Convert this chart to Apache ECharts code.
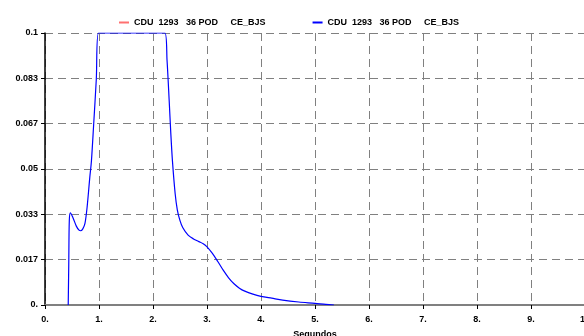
<!DOCTYPE html>
<html>
<head>
<meta charset="utf-8">
<script src="https://cdn.jsdelivr.net/npm/echarts@6/dist/echarts.min.js"></script>
<style>
  html, body { margin: 0; padding: 0; background: #fff; }
  #main { width: 584px; height: 336px; }
</style>
</head>
<body>
<div id="main"></div>
<script>
// legend labels (both series carry the same label in the original)
var seriesLabels = ['CDU  1293   36 POD     CE_BJS', 'CDU  1293   36 POD     CE_BJS'];

// x tick labels (0..10) and y tick labels (0..0.1 in sixths)
var xTickLabels = ['0.', '1.', '2.', '3.', '4.', '5.', '6.', '7.', '8.', '9.', '10'];
var yTickLabels = ['0.', '0.017', '0.033', '0.05', '0.067', '0.083', '0.1'];

// time (s) and value
var blueX = [0.43, 0.44, 0.45, 0.47, 0.52, 0.58, 0.63, 0.66, 0.70, 0.74, 0.78, 0.83, 0.86, 0.90, 0.95, 0.99,
             1.5, 2.0, 2.22, 2.26, 2.30, 2.33, 2.36, 2.41, 2.45, 2.50, 2.55, 2.65, 2.75, 2.85, 2.93, 3.0,
             3.1, 3.2, 3.3, 3.4, 3.5, 3.6, 3.7, 3.85, 4.0, 4.2, 4.4, 4.7, 5.0, 5.2, 5.35];
var blueY = [0, 0.015, 0.031, 0.0339, 0.032, 0.029, 0.0275, 0.0273, 0.028, 0.030, 0.036, 0.047, 0.053, 0.066, 0.083, 0.1,
             0.1, 0.1, 0.1, 0.09, 0.075, 0.063, 0.053, 0.041, 0.035, 0.031, 0.0285, 0.0257, 0.0243, 0.0233, 0.0225, 0.0214,
             0.019, 0.016, 0.0128, 0.0100, 0.0078, 0.0062, 0.0051, 0.0040, 0.0032, 0.0025, 0.0018, 0.0011, 0.0006, 0.0002, 0];

// red series appears only in the legend
var redX = [];
var redY = [];

var toPairs = function (xs, ys) {
    return xs.map(function (x, i) { return [x, ys[i]]; });
};

var myChart = echarts.init(document.getElementById('main'));

var labelFont = {
    color: '#000',
    fontFamily: 'Arial, "Liberation Sans", sans-serif',
    fontWeight: 'bold',
    fontSize: 9
};

var option = {
    animation: false,
    backgroundColor: '#fff',
    legend: {
        top: 13,
        left: 114,
        itemGap: 47,
        itemWidth: 10,
        itemHeight: 2,
        icon: 'rect',
        data: ['red', 'blue'],
        formatter: function (name) {
            return name === 'red' ? seriesLabels[0] : seriesLabels[1];
        },
        textStyle: {
            color: '#000',
            fontFamily: 'Arial, "Liberation Sans", sans-serif',
            fontWeight: 'bold',
            fontSize: 9
        }
    },
    grid: {
        left: 45,
        right: -1,
        top: 33,
        bottom: 31,
        outerBoundsMode: 'none'
    },
    xAxis: [
        {
            type: 'value',
            min: 0,
            max: 10,
            interval: 1,
            name: 'Segundos',
            nameLocation: 'middle',
            nameGap: 25,
            nameTextStyle: {
                color: '#000',
                fontFamily: 'Arial, "Liberation Sans", sans-serif',
                fontWeight: 'bold',
                fontSize: 9
            },
            axisLine: { show: true, onZero: false, lineStyle: { color: '#1a0a0a', width: 2 } },
            axisTick: { show: true, length: 4, lineStyle: { color: '#000', width: 1 } },
            axisLabel: Object.assign({
                margin: 10,
                formatter: function (v) { return xTickLabels[Math.round(v)]; }
            }, labelFont),
            splitLine: { show: true, lineStyle: { color: '#808080', type: [8, 5], width: 1 } }
        },
        {
            type: 'value',
            position: 'top',
            min: 0,
            max: 10,
            interval: 1,
            axisLine: { show: true, lineStyle: { color: '#808080', width: 2 } },
            axisTick: { show: false },
            axisLabel: { show: false },
            splitLine: { show: false }
        }
    ],
    yAxis: {
        type: 'value',
        min: 0,
        max: 0.1,
        interval: 0.1 / 6,
        axisLine: { show: true, onZero: false, lineStyle: { color: '#000', width: 1.5 } },
        axisTick: { show: true, length: 4, lineStyle: { color: '#000', width: 1 } },
        axisLabel: Object.assign({
            margin: 7,
            formatter: function (v) { return yTickLabels[Math.round(v / (0.1 / 6))]; }
        }, labelFont),
        splitLine: { show: true, lineStyle: { color: '#808080', type: [8, 5], width: 1 } }
    },
    series: [
        {
            name: 'red',
            type: 'line',
            data: toPairs(redX, redY),
            showSymbol: false,
            color: '#ff7070',
            lineStyle: { width: 1, color: '#ff7070' }
        },
        {
            name: 'blue',
            type: 'line',
            data: toPairs(blueX, blueY),
            showSymbol: false,
            smooth: 0.3,
            color: '#0000ff',
            lineStyle: { width: 1.2, color: '#0000ff' }
        }
    ]
};

myChart.setOption(option);
</script>
</body>
</html>
